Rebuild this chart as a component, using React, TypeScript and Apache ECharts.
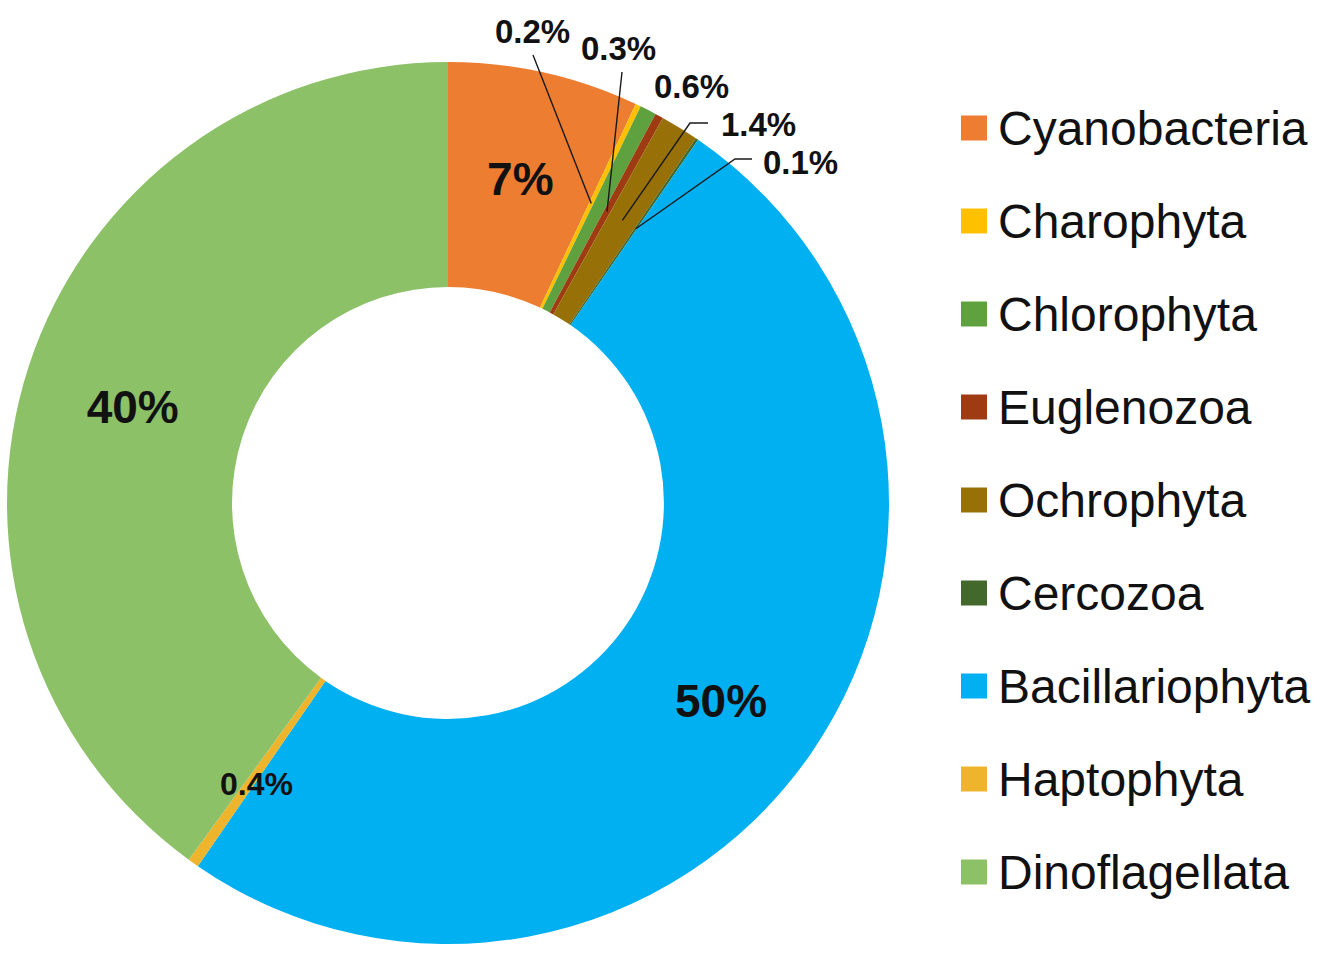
import React, { useEffect, useRef } from "react";
import * as echarts from "echarts";

const categories = [
  "Cyanobacteria",
  "Charophyta",
  "Chlorophyta",
  "Euglenozoa",
  "Ochrophyta",
  "Cercozoa",
  "Bacillariophyta",
  "Haptophyta",
  "Dinoflagellata",
];
const values = [7, 0.2, 0.6, 0.3, 1.4, 0.1, 50, 0.4, 40];
const colors = [
  "#ED7D31",
  "#FFC000",
  "#5FA13F",
  "#9E3B12",
  "#977107",
  "#43682B",
  "#00B0F0",
  "#EDB42C",
  "#8CC168",
];
// which slices carry a big inside label, a small inside label, or an outside label
const labelKinds = ["big", "out", "out", "out", "out", "out", "big", "smallIn", "big"];

const CX = 448;
const CY = 503;
const R_OUT = 441;
const R_IN = 216;
const LINE_R = 332;

// outside label placements and leader-line elbows (layout only)
const outSpots: Record<number, { x: number; y: number; line?: number[][] }> = {
  1: { x: 495, y: 31, line: [[533, 55]] },
  3: { x: 581, y: 48, line: [[622, 72]] },
  2: { x: 654, y: 86 },
  4: { x: 721, y: 124, line: [[690, 123], [708, 123]] },
  5: { x: 763, y: 162, line: [[735, 159], [752, 159]] },
};
const inShift: Record<number, number> = { 0: 0, 6: 10, 7: 10, 8: 6 };

function midAngle(i: number) {
  const total = values.reduce((a, b) => a + b, 0);
  let cum = 0;
  for (let k = 0; k < i; k++) cum += values[k];
  return ((cum + values[i] / 2) / total) * Math.PI * 2;
}

export default function App() {
  const ref = useRef<HTMLDivElement>(null);
  useEffect(() => {
    if (!ref.current) return;
    const chart = echarts.init(ref.current, null, { renderer: "svg" });
    const data = categories.map((name, i) => {
      const kind = labelKinds[i];
      const label =
        kind === "big"
          ? { show: true, position: "inside", fontSize: 46, fontWeight: "bold" }
          : kind === "smallIn"
          ? { show: true, position: "inside", fontSize: 32, fontWeight: "bold" }
          : { show: true, position: "outside", fontSize: 33, fontWeight: "bold" };
      return {
        name,
        value: values[i],
        itemStyle: { color: colors[i] },
        label,
        labelLine: { show: false },
      };
    });
    const leaderLines = Object.keys(outSpots)
      .map(Number)
      .filter((i) => outSpots[i].line)
      .map((i) => {
        const a = midAngle(i);
        const inner = [CX + Math.sin(a) * LINE_R, CY - Math.cos(a) * LINE_R];
        return {
          type: "polyline",
          silent: true,
          z: 100,
          shape: { points: [inner, ...(outSpots[i].line as number[][])] },
          style: { stroke: "#1a1a1a", lineWidth: 1.4, fill: null },
        };
      });
    chart.setOption({
      animation: false,
      backgroundColor: "#ffffff",
      graphic: leaderLines,
      legend: {
        orient: "vertical",
        left: 961,
        top: 104,
        padding: 0,
        itemWidth: 26,
        itemHeight: 25,
        itemGap: 45,
        icon: "rect",
        selectedMode: false,
        data: categories,
        textStyle: {
          fontFamily: "Liberation Sans, Arial, sans-serif",
          fontSize: 48,
          color: "#111111",
          padding: [0, 0, 0, 6],
        },
      },
      series: [
        {
          type: "pie",
          center: [CX, CY],
          radius: [R_IN, R_OUT],
          startAngle: 90,
          clockwise: true,
          avoidLabelOverlap: false,
          minShowLabelAngle: 0,
          label: {
            formatter: "{c}%",
            color: "#111111",
            fontFamily: "Liberation Sans, Arial, sans-serif",
            textBorderWidth: 0,
          },
          emphasis: { disabled: true },
          itemStyle: { borderWidth: 0 },
          data,
          labelLayout: (p: any) => {
            const i = p.dataIndex;
            const spot = outSpots[i];
            if (spot) {
              return { x: spot.x, y: spot.y, align: "left", verticalAlign: "middle" };
            }
            if (inShift[i] != null) return { dy: inShift[i] };
            return {};
          },
        },
      ],
    });
    return () => chart.dispose();
  }, []);
  return (
    <div
      ref={ref}
      style={{ position: "fixed", left: 0, top: 0, width: 1327, height: 957, background: "#fff" }}
    />
  );
}
